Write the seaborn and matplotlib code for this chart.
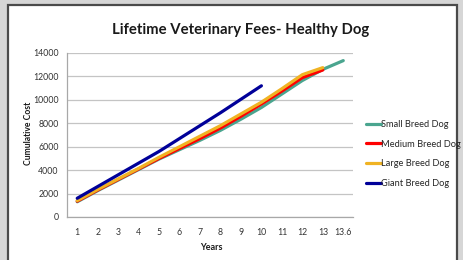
import pandas as pd
import matplotlib
matplotlib.use("Agg")
import matplotlib.pyplot as plt
import matplotlib.patches as mpatches
import seaborn as sns

years = ["1", "2", "3", "4", "5", "6", "7", "8", "9", "10", "11", "12", "13", "13.6"]

small = [1300, 2250, 3150, 4050, 4950, 5750, 6550, 7400, 8350, 9350, 10500, 11650, 12600, 13350]
medium = [1350, 2300, 3200, 4100, 5000, 5850, 6700, 7600, 8600, 9650, 10750, 11900, 12550]
large = [1400, 2350, 3250, 4150, 5100, 6000, 6900, 7800, 8800, 9800, 10950, 12150, 12750]
giant = [1600, 2600, 3600, 4600, 5600, 6700, 7800, 8900, 10050, 11200]

series_names = ["Small Breed Dog", "Medium Breed Dog", "Large Breed Dog", "Giant Breed Dog"]
series_vals = [small, medium, large, giant]
colors = ["#4aa58f", "#ff0000", "#f0b323", "#000099"]

rows = []
for name, vals in zip(series_names, series_vals):
    for yr, v in zip(years, vals):
        rows.append({"Years": yr, "Cost": v, "Breed": name})
df = pd.DataFrame(rows)

sns.set_style("white")
plt.rcParams['font.family'] = ['Lato', 'DejaVu Sans']

fig = plt.figure(figsize=(4.64, 2.6), dpi=100)
fig.patch.set_facecolor("#d6d6d6")
# white panel with dark border
fig.patches.append(mpatches.Rectangle((8 / 464, -0.05), 449 / 464, 1.0 - 5 / 260 + 0.05,
                                      transform=fig.transFigure, facecolor="white",
                                      edgecolor="#4a4a4a", linewidth=1.6, zorder=-5))

ax = fig.add_axes([67 / 464, 1 - 217 / 260, 286.5 / 464, 164 / 260])
ax.set_zorder(2)
ax.set_facecolor("white")

sns.lineplot(data=df, x="Years", y="Cost", hue="Breed", palette=colors,
             linewidth=2.3, errorbar=None, ax=ax, legend=False)

ax.set_ylim(0, 14000)
ax.set_yticks(range(0, 14001, 2000))
ax.set_xlim(-0.5, len(years) - 0.5)
ax.set_xticks(range(len(years)))
ax.set_xticklabels(years)
ax.set_xticks([i - 0.5 for i in range(len(years) + 1)], minor=True)
ax.grid(axis="y", color="#c4c4c4", linewidth=0.9)
ax.set_axisbelow(True)
for s in ["top", "right"]:
    ax.spines[s].set_visible(False)
for s in ["left", "bottom"]:
    ax.spines[s].set_color("#a8a8a8")
    ax.spines[s].set_linewidth(0.9)
ax.tick_params(axis="x", which="major", length=0, pad=8, labelsize=6.3, colors="#333333")
ax.tick_params(axis="x", which="minor", length=3, color="#a8a8a8", direction="out")
ax.tick_params(axis="y", length=3, color="#a8a8a8", labelsize=6.3, pad=3, colors="#333333")
ax.set_xlabel("")
ax.set_ylabel("")

fig.text(241 / 464, 1 - 30 / 260, "Lifetime Veterinary Fees- Healthy Dog", ha="center", va="center",
         fontsize=10.7, fontweight="bold", color="#1a1a1a")
fig.text(29 / 464, 1 - 133 / 260, "Cumulative Cost", rotation=90, ha="center", va="center",
         fontsize=6.2, fontweight="bold", color="#1a1a1a")
fig.text(211 / 464, 1 - 247 / 260, "Years", ha="center", va="center",
         fontsize=6.5, fontweight="bold", color="#1a1a1a")

handles = [plt.Line2D([], [], color=c, linewidth=2.3) for c in colors]
ax.legend(handles, series_names, loc="upper left", bbox_to_anchor=(366 / 464, 1 - 120 / 260),
          bbox_transform=fig.transFigure, frameon=False, fontsize=6.7,
          handlelength=1.6, handletextpad=0.05, labelspacing=1.15, borderaxespad=0, borderpad=0)

fig.savefig("out.png", dpi=100, facecolor=fig.get_facecolor())
